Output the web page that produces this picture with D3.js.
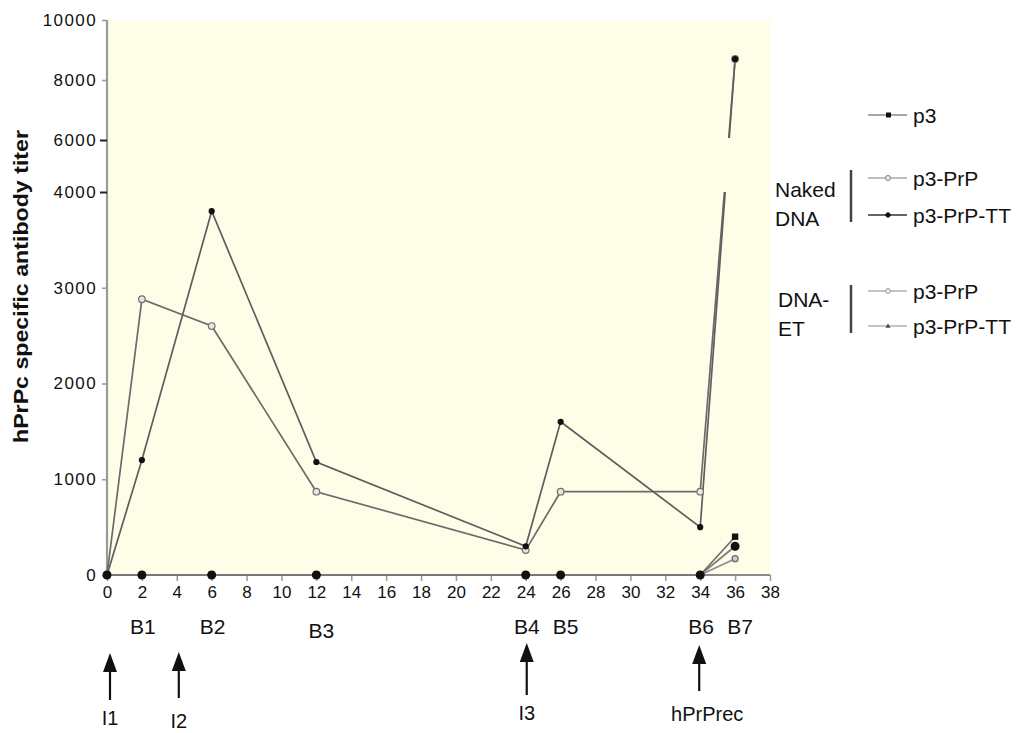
<!DOCTYPE html>
<html>
<head>
<meta charset="utf-8">
<script src="https://cdn.jsdelivr.net/npm/d3@7"></script>
<style>
  html, body { margin: 0; padding: 0; background: #ffffff; }
  svg { display: block; font-family: "Liberation Sans", Arial, Helvetica, sans-serif; }
</style>
</head>
<body>
<svg id="chart" width="1025" height="733"></svg>
<script>
// ---------------- data ----------------
const days        = [0, 2, 6, 12, 24, 26, 34, 36];
const p3          = [0, 0, 0, 0, 0, 0, 0, 400];
const nakedPrP    = [0, 2880, 2600, 870, 260, 870, 870, 8700];
const nakedPrPTT  = [0, 1200, 3800, 1180, 300, 1600, 500, 8700];
const etPrP       = [0, 0, 0, 0, 0, 0, 0, 170];
const etPrPTT     = [0, 0, 0, 0, 0, 0, 0, 300];

const yTicks = [0, 1000, 2000, 3000, 4000, 6000, 8000, 10000];
const xTicks = [0, 2, 4, 6, 8, 10, 12, 14, 16, 18, 20, 22, 24, 26, 28, 30, 32, 34, 36, 38];

const boostLabels = ["B1", "B2", "B3", "B4", "B5", "B6", "B7"];
const boostDays   = [2, 6, 12, 24, 26, 34, 36];

const immLabels = ["I1", "I2", "I3", "hPrPrec"];
const immDays   = [0, 4, 24, 34];

const legendLabels = ["p3", "p3-PrP", "p3-PrP-TT", "p3-PrP", "p3-PrP-TT"];
const groupLabels  = [["Naked", "DNA"], ["DNA-", "ET"]];

const yTitle = "hPrPc specific antibody titer";

// ---------------- layout ----------------
const svg = d3.select("#chart");
const X0 = 107, X1 = 770, Y0 = 575, YTOP = 20;
const x = d3.scaleLinear().domain([0, 38]).range([X0, X1]);
// broken axis: 0-4000 lower segment, 6000-10000 upper segment
const y = d3.scaleLinear().domain([0, 4000, 6000, 10000]).range([Y0, 192, 140, YTOP]);

// plot background
svg.append("rect").attr("x", X0).attr("y", YTOP)
  .attr("width", X1 - X0).attr("height", Y0 - YTOP)
  .attr("fill", "#fefde7");

// clip for the axis break on data lines
const defs = svg.append("defs");
const cp = defs.append("clipPath").attr("id", "brk");
cp.append("rect").attr("x", 0).attr("y", 0).attr("width", 1025).attr("height", 138);
cp.append("rect").attr("x", 0).attr("y", 192).attr("width", 1025).attr("height", 733);

// ---------------- axes ----------------
const yAxis = svg.append("g").attr("transform", `translate(${X0},0)`)
  .call(d3.axisLeft(y).tickValues(yTicks).tickSize(5).tickPadding(5).tickFormat(d3.format("d")));
yAxis.select(".domain").attr("stroke", "#9a9a9a").attr("stroke-width", 2.2)
  .attr("d", `M0,${YTOP}V${Y0}`);
yAxis.selectAll(".tick line").attr("stroke", "#9a9a9a").attr("stroke-width", 1.5);
yAxis.selectAll(".tick").filter(d => d === 4000 || d === 6000)
  .select("line").attr("stroke", "#222").attr("stroke-width", 2).attr("x2", -7);
yAxis.selectAll(".tick text").attr("font-size", 17).attr("letter-spacing", 1.4)
  .attr("fill", "#111").attr("font-family", "Liberation Sans, Arial, sans-serif");

const xAxis = svg.append("g").attr("transform", `translate(0,${Y0})`)
  .call(d3.axisBottom(x).tickValues(xTicks).tickSize(6).tickPadding(5));
xAxis.select(".domain").attr("stroke", "#8a8a8a").attr("stroke-width", 2.2)
  .attr("d", `M${X0},0H${X1}`);
xAxis.selectAll(".tick line").attr("stroke", "#9a9a9a").attr("stroke-width", 1.5);
xAxis.selectAll(".tick text").attr("font-size", 17).attr("fill", "#111")
  .attr("font-family", "Liberation Sans, Arial, sans-serif");

// y title
svg.append("text")
  .attr("transform", `translate(28,${(130 + 443) / 2}) rotate(-90)`)
  .attr("text-anchor", "middle")
  .attr("font-size", 21).attr("font-weight", "bold")
  .attr("textLength", 313).attr("lengthAdjust", "spacingAndGlyphs")
  .attr("fill", "#111")
  .text(yTitle);

// ---------------- series ----------------
const series = [
  { name: "Naked p3-PrP",     vals: nakedPrP,   stroke: "#6b6b6b", marker: "circle", r: 3.3, fill: "#e6e6e0", mstroke: "#707070" },
  { name: "Naked p3-PrP-TT",  vals: nakedPrPTT, stroke: "#5e5e5e", marker: "circle", r: 2.5, fill: "#111", mstroke: "#111" },
  { name: "DNA-ET p3-PrP",    vals: etPrP,      stroke: "#8a8a8a", marker: "circle", r: 3, fill: "#cfcfcf", mstroke: "#666" },
  { name: "p3",               vals: p3,         stroke: "#6e6e6e", marker: "square", fill: "#111" },
  { name: "DNA-ET p3-PrP-TT", vals: etPrPTT,    stroke: "#7a7a7a", marker: "circle", r: 3.9, fill: "#111", mstroke: "#111" }
];

const line = d3.line().x(d => x(d[0])).y(d => y(d[1]));
const dataG = svg.append("g").attr("clip-path", "url(#brk)");

series.forEach(s => {
  const pts = days.map((d, i) => [d, s.vals[i]]);
  dataG.append("path").datum(pts)
    .attr("d", line).attr("fill", "none")
    .attr("stroke", s.stroke).attr("stroke-width", 1.7);
});
series.forEach(s => {
  const pts = days.map((d, i) => [d, s.vals[i]]);
  if (s.marker === "square") {
    dataG.selectAll(null).data(pts).enter().append("rect")
      .attr("x", d => x(d[0]) - 3.2).attr("y", d => y(d[1]) - 3.2)
      .attr("width", 6.4).attr("height", 6.4).attr("fill", s.fill);
  } else {
    dataG.selectAll(null).data(pts).enter().append("circle")
      .attr("cx", d => x(d[0])).attr("cy", d => y(d[1])).attr("r", s.r)
      .attr("fill", s.fill).attr("stroke", s.mstroke).attr("stroke-width", 1.2);
  }
});

// ---------------- boost labels ----------------
svg.selectAll(".boost").data(boostLabels).enter().append("text")
  .attr("class", "boost")
  .attr("x", (d, i) => x(boostDays[i]) + (d === "B3" || d === "B5" || d === "B7" ? 5 : 1))
  .attr("y", (d) => d === "B3" ? 638 : 634)
  .attr("text-anchor", "middle").attr("font-size", 21).attr("fill", "#111")
  .text(d => d);

// ---------------- immunisation arrows ----------------
const arrowTop = [653, 652, 643, 645];
const arrowBot = [700, 698, 695, 691];
const labelBase = [725, 728, 720, 721];
const arrowDx = [3, 2, 1, -1];
immLabels.forEach((lab, i) => {
  const ax = x(immDays[i]) + arrowDx[i];
  svg.append("line").attr("x1", ax).attr("x2", ax)
    .attr("y1", arrowTop[i] + 14).attr("y2", arrowBot[i])
    .attr("stroke", "#111").attr("stroke-width", 2.2);
  svg.append("path")
    .attr("d", `M${ax},${arrowTop[i]} L${ax - 7},${arrowTop[i] + 19} L${ax + 7},${arrowTop[i] + 19} Z`)
    .attr("fill", "#111");
  svg.append("text").attr("x", ax + (lab === "hPrPrec" ? 8 : 0)).attr("y", labelBase[i])
    .attr("text-anchor", "middle").attr("font-size", 20).attr("fill", "#111")
    .text(lab);
});

// ---------------- legend ----------------
const legY = [115, 178, 215, 291, 326];
const legStyle = [
  { stroke: "#8a8a8a", marker: "square" },
  { stroke: "#a8a8a8", marker: "circle", r: 2.6, fill: "#e0e0e0", ms: "#888" },
  { stroke: "#333333", marker: "circle", r: 2.2, fill: "#111", ms: "#111" },
  { stroke: "#b0b0b0", marker: "circle", r: 2.4, fill: "#eeeeee", ms: "#999" },
  { stroke: "#b0b0b0", marker: "tri" }
];
const leg = svg.append("g");
legendLabels.forEach((lab, i) => {
  const ly = legY[i], st = legStyle[i];
  leg.append("line").attr("x1", 868).attr("x2", 907).attr("y1", ly).attr("y2", ly)
    .attr("stroke", st.stroke).attr("stroke-width", 1.6);
  if (st.marker === "square") {
    leg.append("rect").attr("x", 886).attr("y", ly - 2.5).attr("width", 5).attr("height", 5).attr("fill", "#111");
  } else if (st.marker === "circle") {
    leg.append("circle").attr("cx", 888).attr("cy", ly).attr("r", st.r)
      .attr("fill", st.fill).attr("stroke", st.ms).attr("stroke-width", 1);
  } else {
    leg.append("path").attr("d", `M888,${ly - 2.5} L885.5,${ly + 1.8} L890.5,${ly + 1.8} Z`).attr("fill", "#444");
  }
  leg.append("text").attr("x", 913).attr("y", ly + 7.5)
    .attr("font-size", 21).attr("fill", "#111").text(lab);
});
// group labels with brackets
const grpBase = [[197, 226], [307, 336]];
const grpX = [775, 778];
const brk = [[170, 222], [285, 333]];
groupLabels.forEach((g, gi) => {
  g.forEach((t, ti) => {
    leg.append("text").attr("x", grpX[gi]).attr("y", grpBase[gi][ti])
      .attr("font-size", 21).attr("fill", "#111").text(t);
  });
  leg.append("line").attr("x1", 851).attr("x2", 851)
    .attr("y1", brk[gi][0]).attr("y2", brk[gi][1])
    .attr("stroke", "#444").attr("stroke-width", 2.5);
});
</script>
</body>
</html>
